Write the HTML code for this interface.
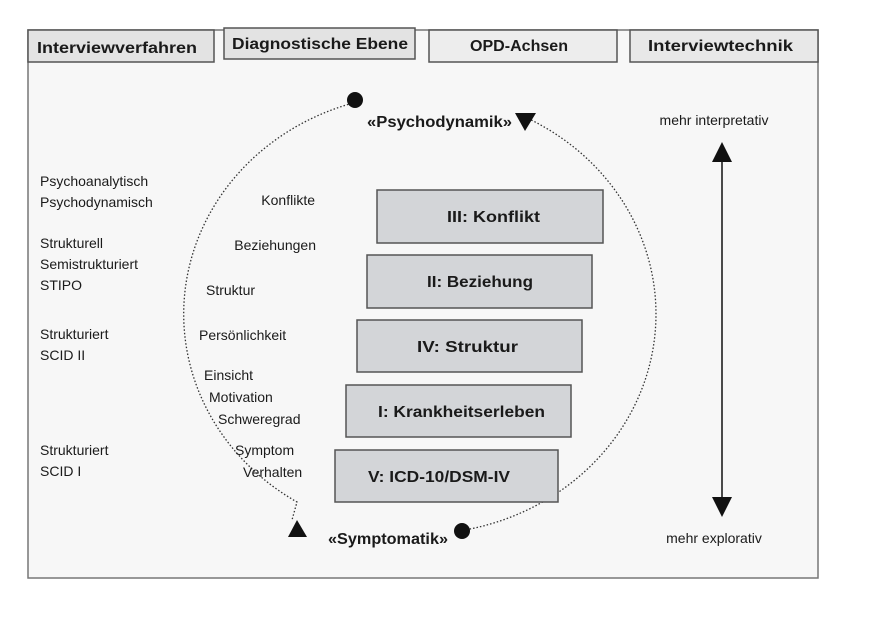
<!DOCTYPE html>
<html><head><meta charset="utf-8"><style>
html,body{margin:0;padding:0;background:#fff;}
svg{display:block;}
text{font-family:"Liberation Sans Narrow","Liberation Sans",sans-serif;fill:#1a1a1a;}
</style></head><body>
<svg width="870" height="622" viewBox="0 0 870 622" xmlns="http://www.w3.org/2000/svg">
<rect x="0" y="0" width="870" height="622" fill="#fff"/>
<rect x="28" y="30" width="790" height="548" fill="#f7f7f7" stroke="#777" stroke-width="1.5"/>
<g stroke="#555" stroke-width="1.5">
<rect x="28" y="30" width="186" height="32" fill="#e3e3e3"/>
<rect x="224" y="28" width="191" height="31" fill="#e3e3e3"/>
<rect x="429" y="30" width="188" height="32" fill="#ededed"/>
<rect x="630" y="30" width="188" height="32" fill="#e8e8e8"/>
</g>
<g font-size="16" font-weight="bold" lengthAdjust="spacingAndGlyphs">
<text x="37" y="53" textLength="160" lengthAdjust="spacingAndGlyphs">Interviewverfahren</text>
<text x="232" y="49" textLength="176" lengthAdjust="spacingAndGlyphs">Diagnostische Ebene</text>
<text x="470" y="51" textLength="98" lengthAdjust="spacingAndGlyphs">OPD-Achsen</text>
<text x="648" y="51" textLength="145" lengthAdjust="spacingAndGlyphs">Interviewtechnik</text>
</g>
<g fill="none" stroke="#333" stroke-width="1.3" stroke-dasharray="1.5 2">
<path d="M355 102.5 A236 220 0 0 0 297 502 L292 520"/>
<path d="M525 117 A236 220 0 0 1 462 530.5"/>
</g>
<circle cx="355" cy="100" r="8" fill="#111"/>
<circle cx="462" cy="531" r="8" fill="#111"/>
<polygon points="515,113 536,113 525,131" fill="#111"/>
<polygon points="288,537 307,537 297,520" fill="#111"/>
<text x="367" y="127" font-size="16" font-weight="bold" textLength="145" lengthAdjust="spacingAndGlyphs">«Psychodynamik»</text>
<text x="328" y="544" font-size="16" font-weight="bold" textLength="120" lengthAdjust="spacingAndGlyphs">«Symptomatik»</text>
<g fill="#d3d5d8" stroke="#555" stroke-width="1.5">
<rect x="377" y="190" width="226" height="53"/>
<rect x="367" y="255" width="225" height="53"/>
<rect x="357" y="320" width="225" height="52"/>
<rect x="346" y="385" width="225" height="52"/>
<rect x="335" y="450" width="223" height="52"/>
</g>
<g font-size="16" font-weight="bold">
<text x="447" y="222" textLength="93" lengthAdjust="spacingAndGlyphs">III: Konflikt</text>
<text x="427" y="287" textLength="106" lengthAdjust="spacingAndGlyphs">II: Beziehung</text>
<text x="417" y="352" textLength="101" lengthAdjust="spacingAndGlyphs">IV: Struktur</text>
<text x="378" y="417" textLength="167" lengthAdjust="spacingAndGlyphs">I: Krankheitserleben</text>
<text x="368" y="482" textLength="142" lengthAdjust="spacingAndGlyphs">V: ICD-10/DSM-IV</text>
</g>
<g font-size="14">
<text x="40" y="186">Psychoanalytisch</text>
<text x="40" y="207">Psychodynamisch</text>
<text x="40" y="248">Strukturell</text>
<text x="40" y="269">Semistrukturiert</text>
<text x="40" y="290">STIPO</text>
<text x="40" y="339">Strukturiert</text>
<text x="40" y="360">SCID II</text>
<text x="40" y="455">Strukturiert</text>
<text x="40" y="476">SCID I</text>
</g>
<g font-size="14">
<text x="315" y="205" text-anchor="end">Konflikte</text>
<text x="316" y="250" text-anchor="end">Beziehungen</text>
<text x="206" y="295">Struktur</text>
<text x="199" y="340">Persönlichkeit</text>
<text x="204" y="380">Einsicht</text>
<text x="209" y="402">Motivation</text>
<text x="218" y="424">Schweregrad</text>
<text x="235" y="455">Symptom</text>
<text x="243" y="477">Verhalten</text>
</g>
<line x1="722" y1="155" x2="722" y2="500" stroke="#111" stroke-width="1.5"/>
<polygon points="712,162 732,162 722,142" fill="#111"/>
<polygon points="712,497 732,497 722,517" fill="#111"/>
<g font-size="14" text-anchor="middle">
<text x="714" y="125">mehr interpretativ</text>
<text x="714" y="543">mehr explorativ</text>
</g>
</svg>
</body></html>
